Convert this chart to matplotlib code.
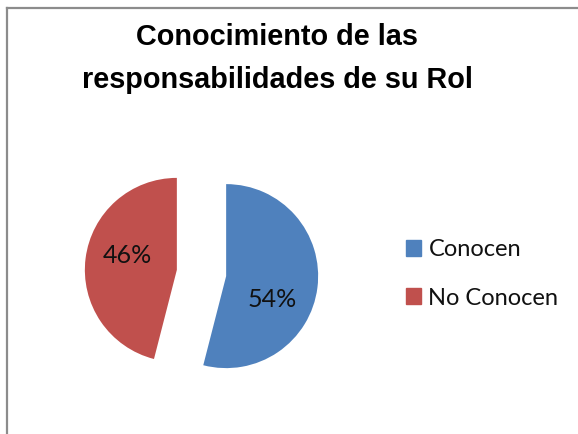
import matplotlib
matplotlib.use("Agg")
import matplotlib.pyplot as plt
from matplotlib.lines import Line2D
import numpy as np

categories = ["Conocen", "No Conocen"]
values = [54, 46]
colors = ["#4F81BD", "#C0504D"]
title_lines = ["Conocimiento de las", "responsabilidades de su Rol"]

W, H, DPI = 578, 434, 100
fig = plt.figure(figsize=(W / DPI, H / DPI), dpi=DPI)
fig.patch.set_facecolor("white")

R = 92.0  # pixel radius
cx, cy = 201.5, 161.0  # pie center in px from bottom-left
ax = fig.add_axes([0, 0, 1, 1])
wedges, texts, autotexts = ax.pie(
    values, colors=colors, startangle=90, counterclock=False,
    explode=[0.27, 0.27], autopct="%1.0f%%", pctdistance=0.56,
    textprops=dict(fontsize=18, family="Lato", color="#111111"),
    wedgeprops=dict(linewidth=0),
)
ax.set_xlim(-cx / R, (W - cx) / R)
ax.set_ylim(-cy / R, (H - cy) / R)
ax.set_aspect("auto")
ax.axis("off")

# shift percent labels to Excel-like placement
label_angles = [-27, 164]
for w, t, a in zip(wedges, autotexts, label_angles):
    c = np.array(w.center)
    d = 0.56
    t.set_position((c[0] + d * np.cos(np.radians(a)), c[1] + d * np.sin(np.radians(a))))

for line, base in zip(title_lines, [45, 88]):
    fig.text(277 / W, 1 - base / H, line, ha="center", va="baseline",
             fontsize=20.8, fontweight="bold", family="Liberation Sans")

handles = [plt.Rectangle((0, 0), 1, 1, color=c) for c in colors]
fig.legend(handles, categories, loc="center left",
           bbox_to_anchor=(406 / W, 1 - 274 / H), frameon=False,
           prop=dict(family="Lato", size=17), handlelength=0.65,
           handleheight=0.65, handletextpad=0.3, labelspacing=1.15,
           borderpad=0, borderaxespad=0, labelcolor="#111111")

# chart border (partially visible frame)
fig.add_artist(Line2D([6.5 / W, 6.5 / W], [0, 1 - 8 / H], transform=fig.transFigure,
                      color="#8c8c8c", linewidth=1.6))
fig.add_artist(Line2D([6.5 / W, 1], [1 - 8 / H, 1 - 8 / H], transform=fig.transFigure,
                      color="#8c8c8c", linewidth=1.6))

fig.savefig("out.png", dpi=DPI)
